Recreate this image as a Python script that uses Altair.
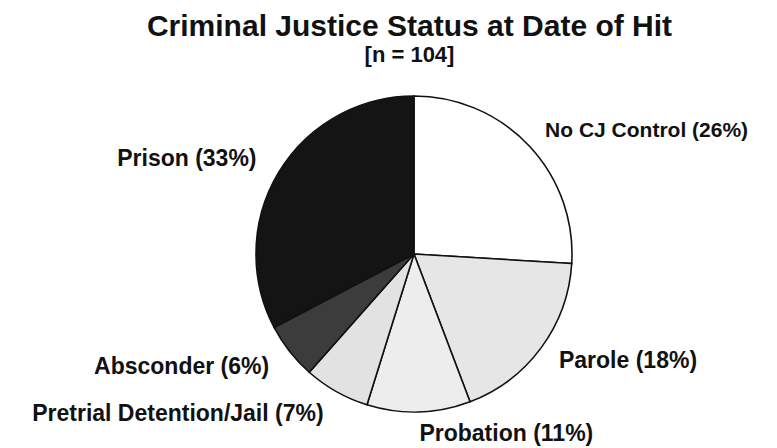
import altair as alt
import pandas as pd

categories = ["No CJ Control", "Parole", "Probation", "Pretrial Detention/Jail", "Absconder", "Prison"]
labels = ["No CJ Control (26%)", "Parole (18%)", "Probation (11%)",
          "Pretrial Detention/Jail (7%)", "Absconder (6%)", "Prison (33%)"]
counts = [27, 19, 11, 7, 6, 34]
colors = ["#ffffff", "#e6e6e6", "#ededed", "#e2e2e2", "#3c3c3c", "#141414"]

df = pd.DataFrame({"category": categories, "label": labels, "count": counts,
                   "idx": list(range(len(categories)))})

CX, CY = 406, 186
R = 158
LABEL_FONT = "Liberation Sans Narrow, Arial Narrow, Liberation Sans, Arial"

base = alt.Chart(df).transform_joinaggregate(
    total="sum(count)"
).transform_window(
    cum="sum(count)", sort=[alt.SortField("idx")], frame=[None, 0]
).transform_calculate(
    mid="(datum.cum - datum.count / 2) / datum.total"
).encode(
    theta=alt.Theta("count:Q", stack=True),
    order=alt.Order("idx:Q", sort="ascending"),
)

pie = base.mark_arc(outerRadius=R, stroke="#111111", strokeWidth=1.6).encode(
    x=alt.value(CX), y=alt.value(CY),
    color=alt.Color("category:N", scale=alt.Scale(domain=categories, range=colors), legend=None),
)

right_labels = base.mark_text(radius=180, align="left", baseline="middle",
                              font=LABEL_FONT, fontWeight="bold",
                              color="#111111").encode(
    x=alt.value(CX), y=alt.value(CY),
    text=alt.condition("datum.mid < 0.5", alt.Text("label:N"), alt.value("")),
    size=alt.condition("datum.mid < 0.15", alt.value(21), alt.value(23)),
)

left_labels = base.mark_text(radius=184, align="right", baseline="middle",
                             font=LABEL_FONT, fontSize=23, fontWeight="bold",
                             color="#111111").encode(
    x=alt.value(CX), y=alt.value(CY),
    text=alt.condition("datum.mid >= 0.5", alt.Text("label:N"), alt.value("")),
)

chart = alt.layer(pie, right_labels, left_labels).properties(
    width=761, height=380,
    padding={"left": 0, "top": 60, "right": 0, "bottom": 0},
    autosize="none",
    background="#ffffff",
    title=alt.TitleParams(
        text="Criminal Justice Status at Date of Hit",
        subtitle="[n = 104]",
        anchor="middle", dx=21, offset=2,
        font="Liberation Sans, Arial", fontSize=30, fontWeight="bold", color="#111111",
        subtitleFont="Liberation Sans, Arial",
        subtitleFontSize=22, subtitleFontWeight="bold", subtitleColor="#111111",
        subtitlePadding=3,
    ),
).configure_view(strokeWidth=0, stroke="transparent")

chart.save("out.html", embed_options={"renderer": "svg", "actions": False})
